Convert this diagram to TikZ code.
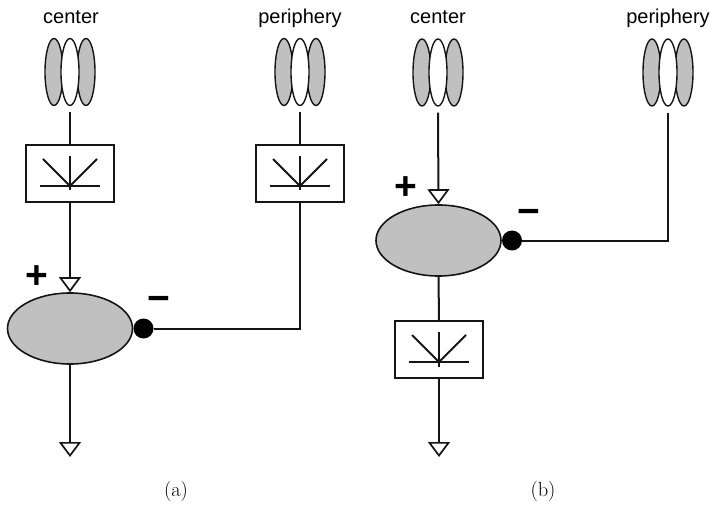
\documentclass[tikz,border=0pt]{standalone}
\usepackage{fontspec}
\setsansfont{Liberation Sans}
\usetikzlibrary{shapes.geometric,arrows.meta}
\definecolor{cellgray}{HTML}{C0C0C0}
\definecolor{ink}{HTML}{151515}
\begin{document}
\begin{tikzpicture}[x=1pt,y=-1pt,
  wire/.style={draw=ink,line width=2pt},
  exc/.style={-{Triangle[open,length=15pt,width=22pt,line width=1.7pt]}},
  cylnode/.style={rectangle,minimum width=50pt,minimum height=80pt,inner sep=0pt},
  stagebox/.style={rectangle,draw=ink,line width=2pt,fill=white,minimum width=88pt,minimum height=57pt,inner sep=0pt},
  cellbody/.style={ellipse,draw=ink,line width=1.6pt,fill=cellgray,minimum width=125pt,minimum height=71pt,inner sep=0pt},
  inhdot/.style={circle,fill=black,minimum size=20pt,inner sep=0pt},
  lbl/.style={font=\sffamily\fontsize{20}{24}\selectfont,anchor=base,inner sep=0pt},
  sign/.style={font=\sffamily\bfseries\fontsize{39}{39}\selectfont,inner sep=0pt},
  caption/.style={font=\fontsize{20.5}{24}\selectfont,anchor=base,inner sep=0pt},
  iconline/.style={draw=ink,line width=2.1pt},
  disc/.style={draw=ink,line width=1.4pt}
]
\useasboundingbox (0,0) rectangle (712,505);

% ---------- panel (a) ----------
\node[lbl] (tca) at (71,24) {center};
\node[lbl] (tpa) at (300,24) {periphery};
\node[cylnode] (ca) at (70,72) {};
\node[cylnode] (pa) at (300,72) {};
\node[stagebox] (ba) at (70,173.5) {};
\node[stagebox] (bpa) at (300,173.5) {};
\node[cellbody] (ea) at (70,328.5) {};
\node[inhdot, anchor=west] (da) at (ea.east) {};
\coordinate (oa) at (70,457);
\node[sign] (plusa) at (37,277) {+};
\node[sign] (minusa) at (159,304) {−};
\node[caption] (capa) at (176,496) {(a)};

% ---------- panel (b) ----------
\node[lbl] (tcb) at (438,24) {center};
\node[lbl] (tpb) at (668,24) {periphery};
\node[cylnode] (cb) at (438,72.5) {};
\node[cylnode] (pb) at (668,72.5) {};
\node[cellbody] (eb) at (438.5,240.5) {};
\node[inhdot, anchor=west] (db) at (eb.east) {};
\node[stagebox] (bb) at (439,349.5) {};
\coordinate (ob) at (439,457);
\node[sign] (plusb) at (406,188) {+};
\node[sign] (minusb) at (529,217) {−};
\node[caption] (capb) at (543,496) {(b)};

% receptor discs
\foreach \n in {ca,pa,cb,pb}{
  \begin{scope}[shift={(\n.center)}]
    \foreach \dx/\fc in {-16/cellgray,16/cellgray,0/white}
      \draw[disc,fill=\fc] (\dx,0) ellipse [x radius=9pt,y radius=33.5pt];
  \end{scope}
}

% stage icons
\foreach \n in {ba,bpa,bb}{
  \begin{scope}[shift={(\n.center)}]
    \draw[iconline] (-27,-14.5) -- (0,12.5) -- (27,-14.5);
    \draw[iconline] (0,-17.5) -- (0,17);
    \draw[iconline] (-30,12.5) -- (30,12.5);
  \end{scope}
}

% connectors (a)
\draw[wire] (ca.south) -- (ba.north);
\draw[wire] (pa.south) -- (bpa.north);
\draw[wire,exc] (ba.south) -- (ea.north);
\draw[wire,exc] (ea.south) -- (oa);
\draw[wire] (bpa.south) |- (da.east);

% connectors (b)
\draw[wire,exc] (cb.south) -- (eb.north);
\draw[wire] (pb.south) |- (db.east);
\draw[wire] (eb.south) -- (bb.north);
\draw[wire,exc] (bb.south) -- (ob);
\end{tikzpicture}
\end{document}
